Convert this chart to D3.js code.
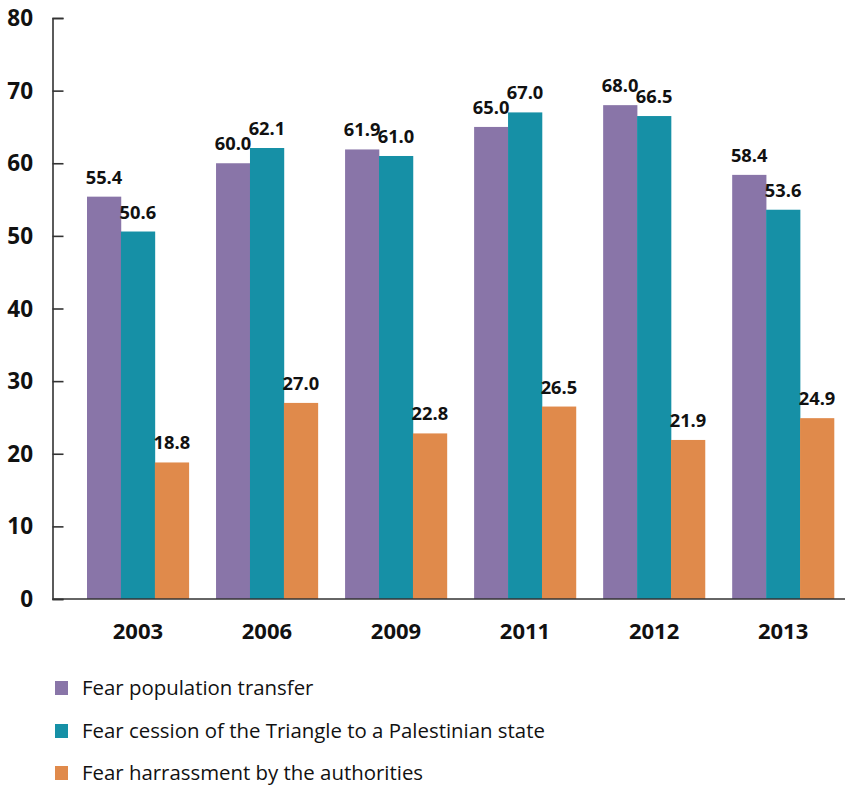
<!DOCTYPE html>
<html><head><meta charset="utf-8">
<script src="https://cdn.jsdelivr.net/npm/d3@7"></script>
<style>body{margin:0;background:#fff}</style>
</head><body>
<svg id="c" width="845" height="786"></svg>
<script>
const years = ["2003","2006","2009","2011","2012","2013"];
const seriesNames = ["Fear population transfer","Fear cession of the Triangle to a Palestinian state","Fear harrassment by the authorities"];
const transfer = [55.4,60.0,61.9,65.0,68.0,58.4];
const cession = [50.6,62.1,61.0,67.0,66.5,53.6];
const harass = [18.8,27.0,22.8,26.5,21.9,24.9];
const yTicks = [0,10,20,30,40,50,60,70,80];
const colors = ["#8975a8","#1690a6","#e08a4b"];
const seriesVals = [transfer, cession, harass];

const svg = d3.select("#c");
const y = d3.scaleLinear().domain([0,80]).range([599,18]);
const x0 = d3.scaleBand().domain(years).range([87,834]).paddingInner(0.211).paddingOuter(0);
const x1 = d3.scaleBand().domain(d3.range(3)).range([0,x0.bandwidth()]);
const font = "'Open Sans', sans-serif";

// bars
years.forEach((yr,i)=>{
  const g = svg.append("g").attr("transform",`translate(${x0(yr)},0)`);
  seriesVals.forEach((vals,s)=>{
    g.append("rect").attr("x",x1(s)).attr("y",y(vals[i])).attr("width",x1.bandwidth()+0.3)
      .attr("height",y(0)-y(vals[i])).attr("fill",colors[s]);
    g.append("text").attr("x",x1(s)+x1.bandwidth()/2).attr("y",y(vals[i])-13)
      .attr("text-anchor","middle").attr("font-family",font).attr("font-weight","bold")
      .attr("font-size",18.3).attr("fill","#111").text(vals[i].toFixed(1));
  });
});

// y axis
const yAxis = d3.axisRight(y).tickValues(yTicks).tickSize(11).tickFormat("");
const ya = svg.append("g").attr("transform","translate(52.5,0)").call(yAxis);
ya.select(".domain").attr("stroke","#333").attr("stroke-width",1.6);
ya.selectAll(".tick line").attr("stroke","#333").attr("stroke-width",1.6);
svg.append("g").selectAll("text").data(yTicks).join("text")
  .attr("x",33).attr("y",d=>y(d)).attr("dy","0.36em").attr("text-anchor","end")
  .attr("font-family",font).attr("font-weight","bold").attr("font-size",22.5).attr("fill","#111")
  .text(d=>d);

// x axis baseline
const xAxis = d3.axisBottom(x0).tickSize(0).tickPadding(0);
const xa = svg.append("g").attr("transform","translate(0,599)").call(xAxis);
xa.select(".domain").attr("d","M52.5,0H845").attr("stroke","#333").attr("stroke-width",1.6);
xa.selectAll(".tick text").attr("y",0).attr("dy","40").attr("font-family",font)
  .attr("font-weight","bold").attr("font-size",22).attr("fill","#111");

// legend
const legY = [688,731,773];
const lg = svg.append("g").selectAll("g").data(seriesNames).join("g")
  .attr("transform",(d,i)=>`translate(55,${legY[i]})`);
lg.append("rect").attr("x",0).attr("y",-7).attr("width",13).attr("height",14).attr("fill",(d,i)=>colors[i]);
lg.append("text").attr("x",27).attr("y",0).attr("dy","0.35em").attr("font-family",font)
  .attr("font-size",20.4).attr("fill","#111").text(d=>d);
</script>
</body></html>
